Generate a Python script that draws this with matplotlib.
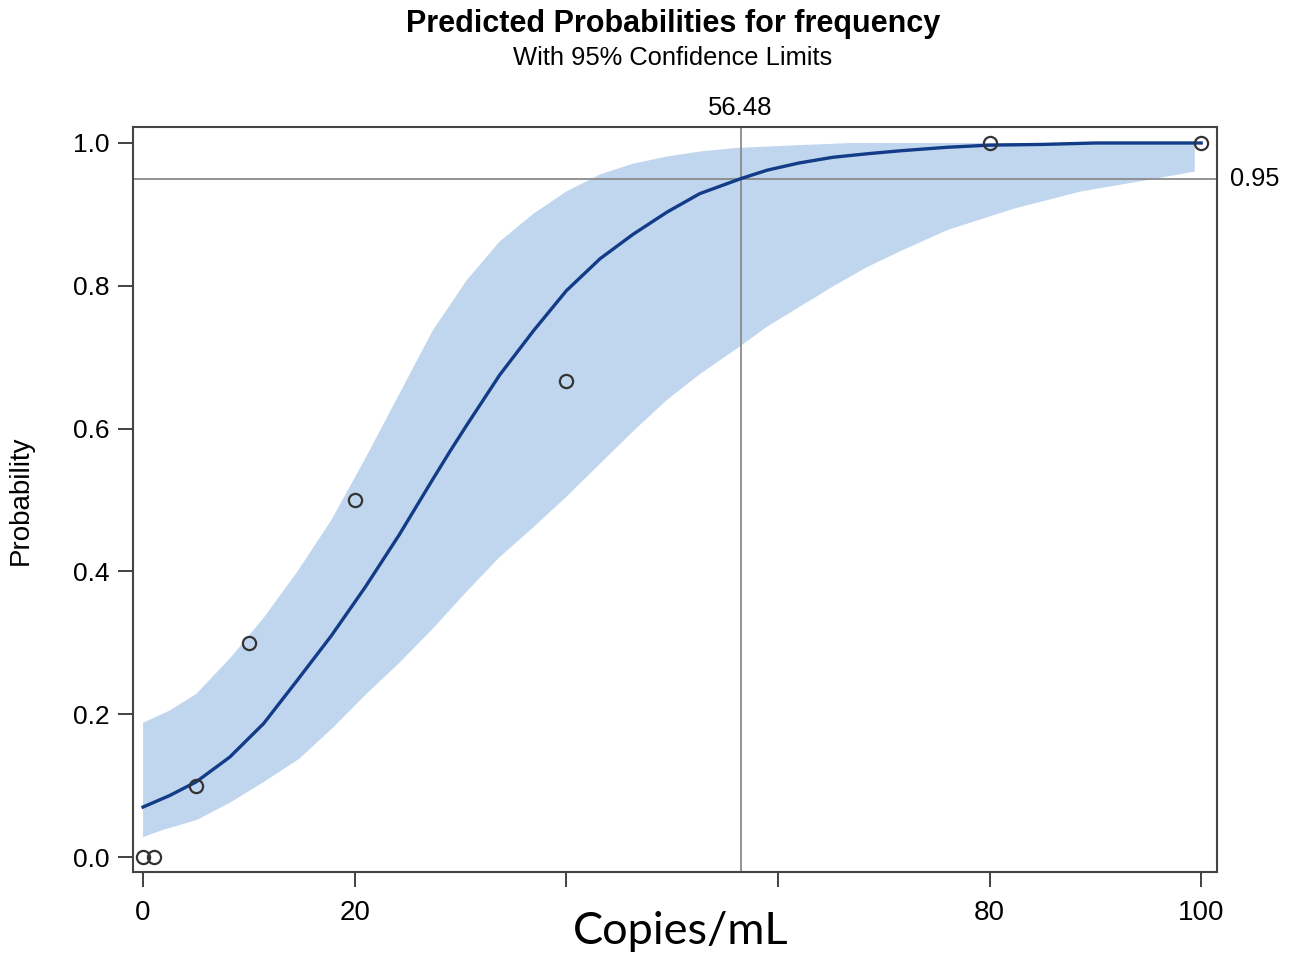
import matplotlib
matplotlib.use("Agg")
import matplotlib.pyplot as plt

# Observed proportions
obs_x = [0, 1, 5, 10, 20, 40, 80, 100]
obs_p = [0.0, 0.0, 0.1, 0.3, 0.5, 0.667, 1.0, 1.0]

# Predicted probability curve
curve_x = [0, 2.5, 5, 8.2, 11.4, 14.6, 17.8, 21, 24.2, 27.3, 29, 30.6, 33.7, 36.9,
           40, 43.2, 46.3, 49.5, 52.6, 56.48, 59, 62, 65.2, 68.5, 71.5, 76, 80, 85,
           90, 95, 100]
curve_p = [0.070, 0.086, 0.105, 0.14, 0.187, 0.248, 0.31, 0.378, 0.451, 0.527, 0.568,
           0.605, 0.675, 0.737, 0.793, 0.838, 0.872, 0.903, 0.929, 0.95, 0.962, 0.972,
           0.98, 0.985, 0.989, 0.994, 0.997, 0.998, 1.0, 1.0, 1.0]

# 95% confidence limits
upper_x = [0, 2.5, 5, 8.2, 11.4, 14.6, 17.8, 21, 24.2, 27.4, 30.6, 33.7, 36.9, 40,
           43.2, 46.3, 49.5, 52.6, 56, 62, 67, 80, 99.4]
upper_p = [0.188, 0.205, 0.228, 0.278, 0.335, 0.40, 0.472, 0.558, 0.648, 0.738, 0.808,
           0.862, 0.901, 0.932, 0.956, 0.971, 0.981, 0.988, 0.993, 0.997, 1.0, 1.0, 1.0]
lower_x = [0, 1.9, 5.1, 8.2, 11.3, 14.8, 18, 21.15, 24.3, 27.4, 30.6, 33.7, 36.9,
           40.05, 43.2, 46.3, 49.5, 52.6, 56.4, 59, 62.1, 65.2, 68.4, 71.5, 76, 82.3,
           88.6, 94.9, 99.4]
lower_p = [0.028, 0.038, 0.052, 0.076, 0.104, 0.138, 0.182, 0.229, 0.273, 0.32, 0.372,
           0.42, 0.462, 0.505, 0.551, 0.596, 0.640, 0.676, 0.715, 0.743, 0.771, 0.799,
           0.826, 0.848, 0.878, 0.908, 0.932, 0.948, 0.96]

x_ticks = [0, 20, 40, 60, 80, 100]
x_tick_labels = ["0", "20", "", "", "80", "100"]
y_ticks = [0.0, 0.2, 0.4, 0.6, 0.8, 1.0]
y_tick_labels = ["0.0", "0.2", "0.4", "0.6", "0.8", "1.0"]
ref_x = 56.48
ref_p = 0.95

SANS = ["Liberation Sans", "DejaVu Sans"]

fig = plt.figure(figsize=(12.98, 9.57), dpi=100)
ax = fig.add_axes([133/1298, 1-872/957, (1217-133)/1298, (872-127)/957])

band_x = list(upper_x) + list(lower_x[::-1])
band_y = list(upper_p) + list(lower_p[::-1])
ax.fill(band_x, band_y, color="#c0d6ee", lw=0, zorder=1)
ax.plot(curve_x, curve_p, color="#123b88", lw=2.4, zorder=3,
        solid_joinstyle="round")
ax.axhline(ref_p, color="#8a8a8a", lw=1.3, zorder=2)
ax.axvline(ref_x, color="#8a8a8a", lw=1.3, zorder=2)
ax.plot(obs_x, obs_p, ls="none", marker="o", ms=9.5, mfc="none", mec="#333333",
        mew=1.6, zorder=4)

ax.set_xlim(-0.95, 101.5)
ax.set_ylim(-0.021, 1.0224)
ax.set_xticks(x_ticks)
ax.set_xticklabels(x_tick_labels, family=SANS, fontsize=20)
ax.set_yticks(y_ticks)
ax.set_yticklabels(y_tick_labels, family=SANS, fontsize=19)
ax.tick_params(axis="both", direction="out", length=11, width=1.3, color="#333333",
               pad=6)
ax.tick_params(axis="x", pad=9)
for s in ax.spines.values():
    s.set_color("#444444")
    s.set_linewidth(1.5)

ax.set_ylabel("Probability", family=SANS, fontsize=20)
ax.yaxis.set_label_coords(-0.0915, 0.499)

fig.text(673/1298, 1-24/957, "Predicted Probabilities for frequency", ha="center",
         va="center", family=SANS, fontsize=22, fontweight="bold")
fig.text(673/1298, 1-58/957, "With 95% Confidence Limits", ha="center", va="center",
         family=SANS, fontsize=18.4)
ax.text(ref_x, 1.032, "56.48", ha="center", va="bottom", family=SANS, fontsize=18.5,
        clip_on=False)
ax.text(1.012, ref_p, "0.95", ha="left", va="center", family=SANS, fontsize=18.3,
        transform=ax.get_yaxis_transform(), clip_on=False)
fig.text(681/1298, 1-931/957, "Copies/mL", ha="center", va="center",
         family=["Lato", "DejaVu Sans"], fontsize=32.5)

fig.savefig("out.png", dpi=100)
